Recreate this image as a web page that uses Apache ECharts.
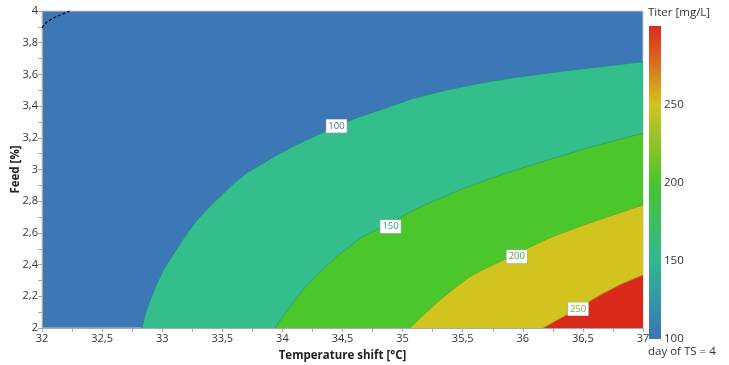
<!DOCTYPE html>
<html><head><meta charset="utf-8">
<script src="https://cdn.jsdelivr.net/npm/echarts@6/dist/echarts.min.js"></script>
<style>html,body{margin:0;padding:0;background:#fff}#c{width:729px;height:365px}</style>
</head><body><div id="c"></div>
<script>
// Contour lines: [temperature shift, feed]
var contour100 = [[32.83,2.0],[32.86,2.09],[32.90,2.177],[32.95,2.27],[33.01,2.366],[33.08,2.45],[33.15,2.534],[33.22,2.61],[33.29,2.681],[33.40,2.77],[33.51,2.850],[33.60,2.915],[33.70,2.976],[33.84,3.04],[33.98,3.102],[34.12,3.157],[34.26,3.207],[34.45,3.274],[34.62,3.327],[34.81,3.375],[35.09,3.449],[35.37,3.502],[35.64,3.544],[35.92,3.579],[36.20,3.607],[36.48,3.634],[36.75,3.658],[37.0,3.68]];
var contour150 = [[33.94,2.0],[34.05,2.12],[34.17,2.24],[34.31,2.35],[34.45,2.45],[34.67,2.577],[34.90,2.66],[35.08,2.74],[35.28,2.808],[35.49,2.875],[35.70,2.934],[35.91,2.99],[36.12,3.039],[36.53,3.134],[37.0,3.229]];
var contour200 = [[35.06,2.0],[35.17,2.08],[35.28,2.156],[35.42,2.245],[35.56,2.324],[35.70,2.38],[35.84,2.429],[35.95,2.47],[36.10,2.525],[36.25,2.577],[36.46,2.637],[36.67,2.692],[37.0,2.776]];
var contour250 = [[36.17,2.0],[36.28,2.048],[36.39,2.093],[36.53,2.157],[36.67,2.219],[36.83,2.28],[37.0,2.334]];
var contour50 = [[32.0,3.895],[32.04,3.93],[32.09,3.954],[32.15,3.975],[32.23,4.0]];
var contourLabels = [[34.45,3.274,'100'],[34.90,2.64,'150'],[35.95,2.45,'200'],[36.46,2.12,'250']];
var colorbarTicks = [100,150,200,250];
var colorbarMin = 100, colorbarMax = 300;

var fills = ['#33be8c','#4bc72b','#d1c41f','#da2a1b'];
var edges = ['#2f7f94','#2f9f6a','#6aa52a','#b8882a'];
var labelColors = ['#5a6e8a','#3a9a86','#4aa040','#a09a30'];
var contours = [contour100, contour150, contour200, contour250];

function comma(v){ return String(Math.round(v*100)/100).replace('.', ','); }

var series = contours.map(function(c, i){
  return {
    type:'line', data:c, symbol:'none', smooth:false, xAxisIndex:0, yAxisIndex:0,
    lineStyle:{color:edges[i], width:0.8},
    areaStyle:{color:fills[i], opacity:1, origin:'start'},
    z: 2+i, silent:true
  };
});
series.push({
  type:'line', data:contour50, symbol:'none', smooth:false,
  lineStyle:{color:'#000', width:1.2, type:[3,2]}, z:8, silent:true
});
series.push({
  type:'scatter', symbolSize:0, z:10, itemStyle:{opacity:1},
  data: contourLabels.map(function(d,i){
    return {value:d, label:{color:labelColors[i]}};
  }),
  label:{show:true, position:'inside', formatter:function(p){return p.value[2];},
    backgroundColor:'#ffffff', borderColor:'#aaa', borderWidth:0.6, padding:[2,2,1,2],
    fontSize:9.5, fontFamily:'Open Sans', opacity:1}
});
series.push({
  type:'bar', xAxisIndex:1, yAxisIndex:1, data:[colorbarMax], barWidth:'100%', silent:true,
  itemStyle:{color:new echarts.graphic.LinearGradient(0,0,0,1,[
    {offset:0,color:'#dc2a1c'},
    {offset:0.12,color:'#d8701f'},
    {offset:0.25,color:'#d2c321'},
    {offset:0.5,color:'#4ac42c'},
    {offset:0.75,color:'#31b88f'},
    {offset:1,color:'#3a74b8'}
  ])}
});

var chart = echarts.init(document.getElementById('c'));
chart.setOption({
  animation:false,
  textStyle:{fontFamily:'Open Sans'},
  grid:[
    {left:42, right:86, top:11, bottom:37, show:true, backgroundColor:'#3b78b5', borderColor:'#ccc', borderWidth:1, outerBoundsMode:'none', containLabel:false},
    {left:649, width:12, top:26, bottom:26, outerBoundsMode:'none', containLabel:false}
  ],
  xAxis:[
    {type:'value', gridIndex:0, min:32, max:37, interval:0.5,
     name:'Temperature shift [°C]', nameLocation:'middle', nameGap:22,
     nameTextStyle:{fontWeight:'bold', fontSize:11.5, color:'#222'},
     axisLine:{show:true, onZero:false, lineStyle:{color:'#aaa'}},
     axisTick:{show:true, length:4, lineStyle:{color:'#aaa'}},
     minorTick:{show:true, splitNumber:2, length:4, lineStyle:{color:'#aaa'}},
     splitLine:{show:false},
     axisLabel:{fontSize:11, color:'#333', margin:5, formatter:comma}},
    {type:'category', gridIndex:1, data:['c'], show:false}
  ],
  yAxis:[
    {type:'value', gridIndex:0, min:2, max:4, interval:0.2,
     name:'Feed [%]', nameLocation:'middle', nameGap:20, nameMoveOverlap:false,
     nameTextStyle:{fontWeight:'bold', fontSize:11.5, color:'#222'},
     axisLine:{show:true, onZero:false, lineStyle:{color:'#aaa'}},
     axisTick:{show:true, length:4, lineStyle:{color:'#aaa'}},
     minorTick:{show:true, splitNumber:2, length:4, lineStyle:{color:'#aaa'}},
     splitLine:{show:false},
     axisLabel:{fontSize:11, color:'#333', margin:4, formatter:comma}},
    {type:'value', gridIndex:1, min:colorbarMin, max:colorbarMax, interval:50, position:'right',
     axisLine:{show:false}, axisTick:{show:false}, splitLine:{show:false},
     axisLabel:{fontSize:11.5, color:'#333', margin:3,
       formatter:function(v){ return colorbarTicks.indexOf(v)>=0 ? String(v) : ''; }}}
  ],
  graphic:[
    {type:'text', left:648, top:7, style:{text:'Titer [mg/L]', font:'11.5px Open Sans', fill:'#333'}},
    {type:'text', left:648, top:346, style:{text:'day of TS = 4', font:'11.5px Open Sans', fill:'#333'}}
  ],
  series:series
});
</script></body></html>
